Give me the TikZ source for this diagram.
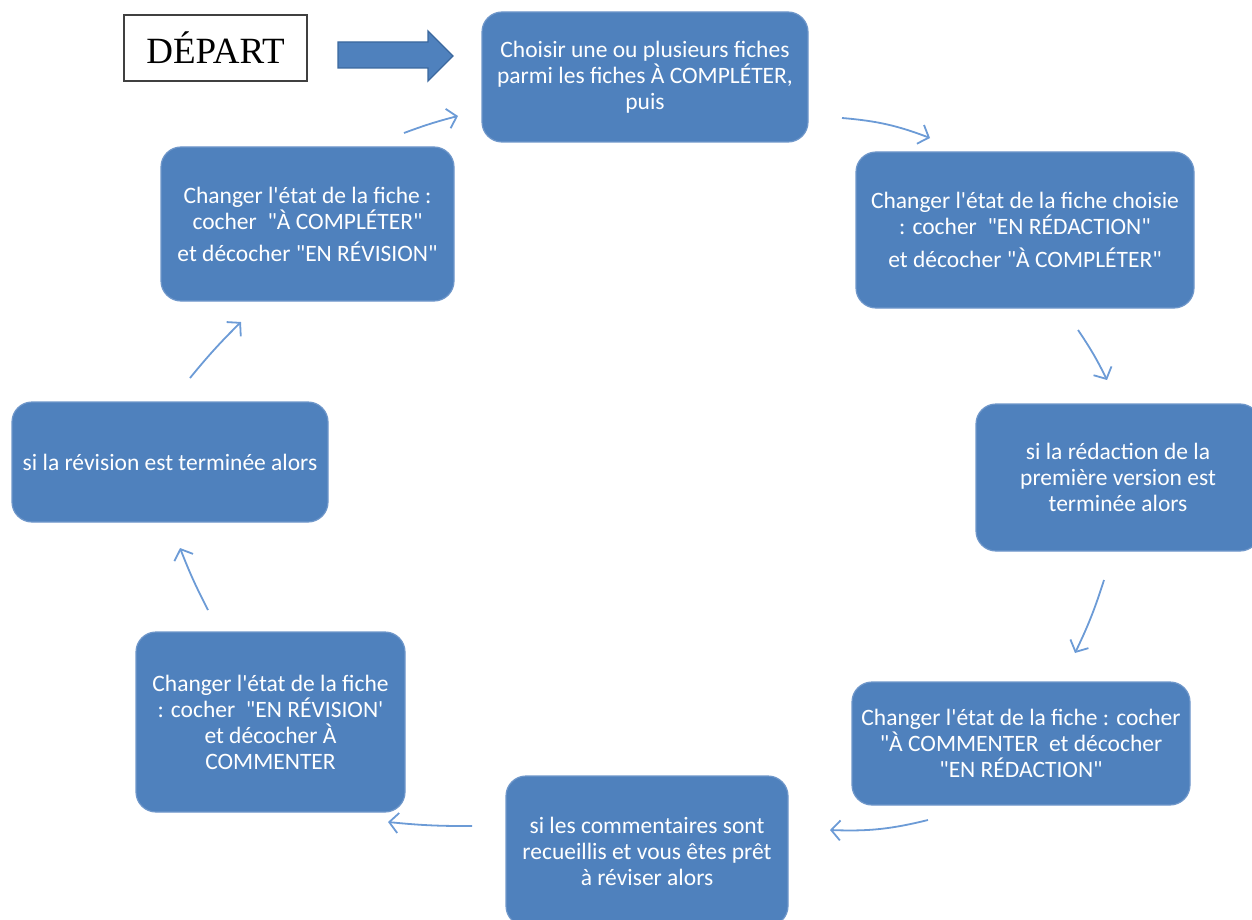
\documentclass[tikz,border=0pt]{standalone}
\usepackage{fontspec}
\newfontfamily\calib{Carlito}
\newfontfamily\tnr{Liberation Serif}
\usetikzlibrary{arrows.meta}
\definecolor{boxblue}{HTML}{4F81BD}
\definecolor{boxedge}{HTML}{6F97CA}
\definecolor{arrblue}{HTML}{6C9BD6}
\definecolor{bigedge}{HTML}{3B689E}
\tikzset{
  flowbox/.style={rounded corners=20, fill=boxblue, draw=boxedge, line width=1.2,
    text=white, align=center, inner sep=0,
    font=\calib\fontsize{23.5}{26}\selectfont},
  conn/.style={draw=arrblue, line width=1.8, -{Straight Barb[length=9,width=20,line width=1.8]}},
  startbox/.style={draw=black!75, line width=1.5, inner sep=0,
    font=\tnr\fontsize{37}{40}\selectfont}
}
\begin{document}
\begin{tikzpicture}[x=1pt,y=-1pt]
\useasboundingbox (0,0) rectangle (1252,920);
\clip (0,0) rectangle (1252,920);
% start
\node[startbox, minimum width=183, minimum height=66] (dep) at (215.5,48) {\raisebox{1pt}{DÉPART}};
\fill[boxblue, draw=bigedge, line width=1.3]
  (338,42) -- (428,42) -- (428,31) -- (453,56) -- (428,81) -- (428,68) -- (338,68) -- cycle;
% boxes
\node[flowbox, minimum width=326, minimum height=130] (b1) at (645,77)
  {Choisir une ou plusieurs fiches\\ parmi les fiches À COMPLÉTER,\\ puis};
\node[flowbox, minimum width=338, minimum height=156] (b2) at (1025,230)
  {Changer l'état de la fiche choisie\\ : cocher~ "EN RÉDACTION"\\[7pt] et décocher "À COMPLÉTER"};
\node[flowbox, minimum width=284, minimum height=147] (b3) at (1118,477.5)
  {si la rédaction de la\\ première version est\\ terminée alors};
\node[flowbox, minimum width=338, minimum height=123] (b4) at (1021,743.5)
  {Changer l'état de la fiche : cocher\\ "À COMMENTER~ et décocher\\ "EN RÉDACTION"};
\node[flowbox, minimum width=282, minimum height=150] (b5) at (647,851)
  {si les commentaires sont\\ recueillis et vous êtes prêt\\ à réviser alors};
\node[flowbox, minimum width=269, minimum height=180] (b6) at (270.5,722)
  {Changer l'état de la fiche\\ : cocher~ "EN RÉVISION'\\ et décocher À\\ COMMENTER};
\node[flowbox, minimum width=316, minimum height=120] (b7) at (170,462)
  {si la révision est terminée alors};
\node[flowbox, minimum width=293, minimum height=154] (b8) at (307.5,224)
  {Changer l'état de la fiche :\\ cocher~ "À COMPLÉTER"\\[6pt] et décocher "EN RÉVISION"};
% connector end points
\coordinate (a1s) at (842,118); \coordinate (a1e) at (930,138);
\coordinate (a2s) at (1078,330); \coordinate (a2e) at (1107,380);
\coordinate (a3s) at (1104,580); \coordinate (a3e) at (1075,653);
\coordinate (a4s) at (928,820); \coordinate (a4e) at (830,830);
\coordinate (a5s) at (472,826); \coordinate (a5e) at (388,822);
\coordinate (a6s) at (208,610); \coordinate (a6e) at (180,548);
\coordinate (a7s) at (190,378); \coordinate (a7e) at (241,322);
\coordinate (a8s) at (404,133); \coordinate (a8e) at (458,116);
\draw[conn] (a1s) to[bend left=8] (a1e);
\draw[conn] (a2s) to[bend left=4] (a2e);
\draw[conn] (a3s) to[bend left=4] (a3e);
\draw[conn] (a4s) to[bend left=8] (a4e);
\draw[conn] (a5s) to[bend left=3] (a5e);
\draw[conn] (a6s) to[bend left=3] (a6e);
\draw[conn] (a7s) to[bend left=3] (a7e);
\draw[conn] (a8s) to[bend left=3] (a8e);
\end{tikzpicture}
\end{document}
